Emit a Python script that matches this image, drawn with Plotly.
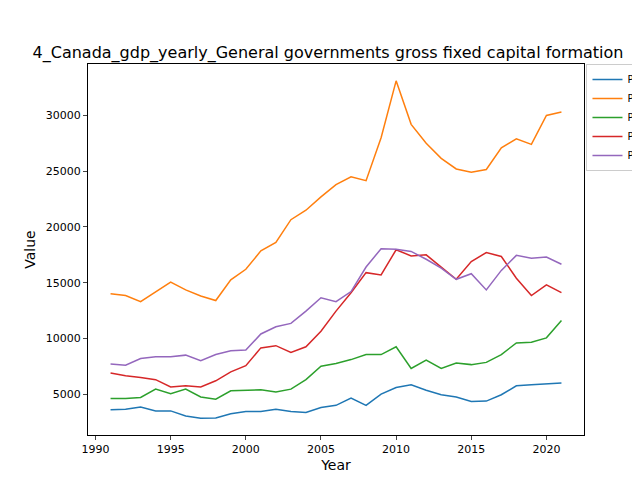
import plotly.graph_objects as go

years = list(range(1991, 2022))
P1 = [3600,3650,3850,3500,3500,3050,2850,2870,3250,3450,3450,3650,3450,3350,3800,4000,4650,4000,5000,5600,5850,5350,4950,4750,4350,4380,4950,5750,5850,5950,6000]
P2 = [14000,13850,13300,14200,15050,14350,13800,13400,15250,16200,17850,18600,20650,21500,22700,23800,24500,24150,28000,33100,29200,27500,26150,25200,24900,25150,27100,27900,27400,30000,30300]
P3 = [4600,4600,4700,5450,5050,5450,4750,4550,5300,5350,5400,5200,5450,6300,7500,7750,8100,8550,8550,9250,7300,8050,7300,7800,7650,7850,8550,9600,9650,10050,11600]
P4 = [6900,6650,6500,6300,5650,5750,5650,6200,7000,7550,9150,9350,8750,9250,10650,12450,14100,15900,15700,17950,17400,17500,16400,15300,16900,17700,17350,15400,13850,14800,14100]
P5 = [7700,7600,8200,8350,8350,8500,8000,8550,8900,8950,10400,11050,11350,12450,13650,13300,14200,16400,18050,18000,17800,17100,16300,15300,15800,14350,16100,17450,17200,17300,16650]
names = ["P1", "P2", "P3", "P4", "P5"]
colors = ["#1f77b4", "#ff7f0e", "#2ca02c", "#d62728", "#9467bd"]

fig = go.Figure()
for n, s, c in zip(names, [P1, P2, P3, P4, P5], colors):
    fig.add_trace(go.Scatter(x=years, y=s, mode="lines", name=n, line=dict(color=c, width=1.5)))

allv = P1 + P2 + P3 + P4 + P5
lo, hi = min(allv), max(allv)
pad = (hi - lo) * 0.05
fig.update_layout(
    width=640, height=480,
    paper_bgcolor="white", plot_bgcolor="white",
    margin=dict(l=80, r=64, t=56, b=53, autoexpand=False),
    font=dict(family="DejaVu Sans", size=12, color="black"),
    title=dict(text="4_Canada_gdp_yearly_General governments gross fixed capital formation",
               x=0.5, xanchor="center", y=0.908, yanchor="middle", font=dict(size=16)),
    legend=dict(x=1.005, y=1, xanchor="left", yanchor="top", bordercolor="#cccccc", borderwidth=1,
                font=dict(size=10), tracegroupgap=0),
    xaxis=dict(title=dict(text="Year", standoff=4), range=[1989.5, 2022.5], tickvals=[1990, 1995, 2000, 2005, 2010, 2015, 2020],
               showgrid=False, zeroline=False, showline=True, linecolor="black", mirror=True,
               ticks="outside", ticklen=4, automargin=False, tickfont=dict(size=11)),
    yaxis=dict(title=dict(text="Value", standoff=6), range=[lo - pad, hi + pad], tickvals=[5000, 10000, 15000, 20000, 25000, 30000],
               tickformat="d", showgrid=False, zeroline=False, showline=True, linecolor="black", mirror=True,
               ticks="outside", ticklen=4, automargin=False, tickfont=dict(size=11)),
)
fig.write_html("out.html")
